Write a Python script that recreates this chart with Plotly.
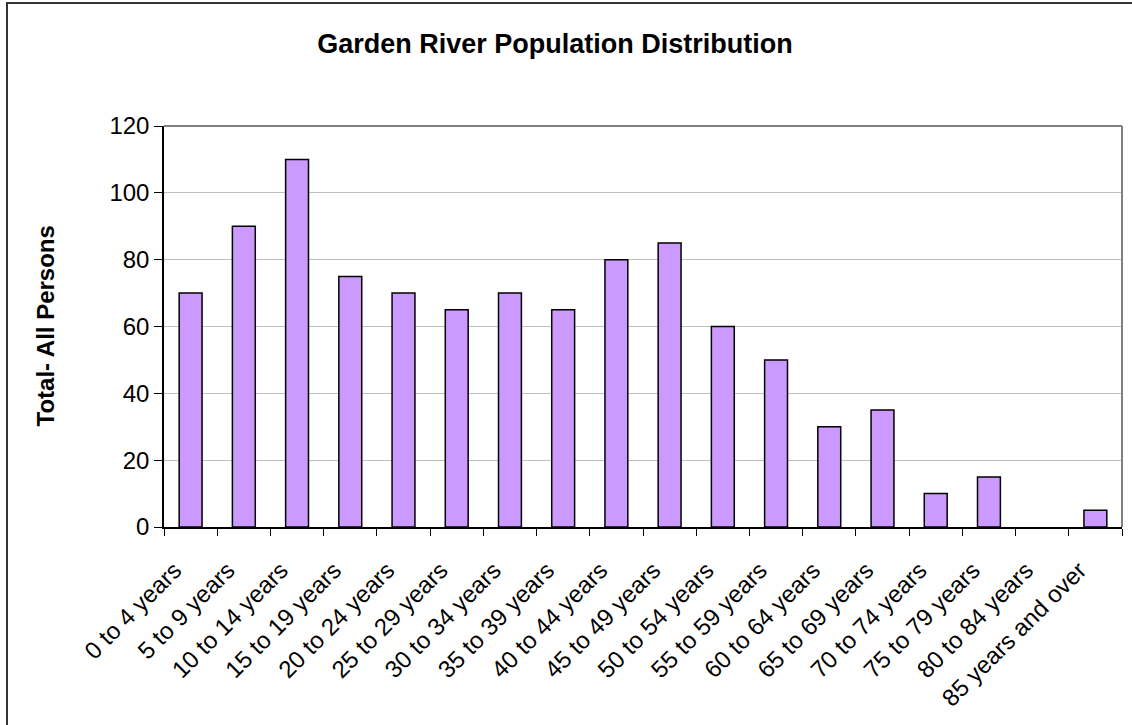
import plotly.graph_objects as go

categories = ["0 to 4 years", "5 to 9 years", "10 to 14 years", "15 to 19 years",
              "20 to 24 years", "25 to 29 years", "30 to 34 years", "35 to 39 years",
              "40 to 44 years", "45 to 49 years", "50 to 54 years", "55 to 59 years",
              "60 to 64 years", "65 to 69 years", "70 to 74 years", "75 to 79 years",
              "80 to 84 years", "85 years and over"]
values = [70, 90, 110, 75, 70, 65, 70, 65, 80, 85, 60, 50, 30, 35, 10, 15, 0, 5]
y_ticks = [0, 20, 40, 60, 80, 100, 120]

W, H = 1132, 725
ML, MR, MT, MB = 164, 10, 126, 198
PW, PH = W - ML - MR, H - MT - MB

def px(x):
    return (x - ML) / PW

def py(y):
    return (H - MB - y) / PH

FONT = "Arial, Liberation Sans, sans-serif"

fig = go.Figure(go.Bar(
    x=categories, y=values,
    marker=dict(color="#CC99FF",
                line=dict(color="black", width=[0 if v == 0 else 1.5 for v in values])),
))

fig.update_layout(
    width=W, height=H,
    margin=dict(l=ML, r=MR, t=MT, b=MB),
    paper_bgcolor="white", plot_bgcolor="white",
    bargap=0.57,
    showlegend=False,
    font=dict(family=FONT, color="black", size=24),
    title=dict(text="<b>Garden River Population Distribution</b>",
               x=555 / W, y=1 - 44 / H, xanchor="center", yanchor="middle",
               xref="container", yref="container",
               font=dict(family=FONT, size=27, color="black")),
    xaxis=dict(
        type="category", tickson="boundaries", ticks="outside", ticklen=7,
        tickcolor="black", showline=True, linecolor="black", linewidth=1.5,
        tickangle=-45, showgrid=False, tickfont=dict(size=24),
        ticklabelstandoff=18, ticklabelshift=-16,
    ),
    yaxis=dict(
        range=[0, 120], tickvals=y_ticks, ticks="outside", ticklen=8,
        tickcolor="black", showline=True, linecolor="black", linewidth=1.5,
        gridcolor="#C0C0C0", gridwidth=1, tickfont=dict(size=24),
        zeroline=False,
    ),
    annotations=[dict(
        text="<b>Total- All Persons</b>", textangle=-90,
        x=px(45), y=0.5, xref="paper", yref="paper",
        xanchor="center", yanchor="middle", showarrow=False,
        font=dict(family=FONT, size=24, color="black"),
    )],
    shapes=[
        dict(type="line", xref="paper", yref="paper", x0=0, x1=1, y0=1, y1=1,
             line=dict(color="#808080", width=2)),
        dict(type="line", xref="paper", yref="paper", x0=1, x1=1, y0=0, y1=1,
             line=dict(color="#808080", width=2)),
        dict(type="rect", xref="paper", yref="paper",
             x0=px(7), x1=px(1140), y0=py(740), y1=py(3),
             line=dict(color="#333333", width=2), layer="below"),
    ],
)

fig.write_html("out.html")
